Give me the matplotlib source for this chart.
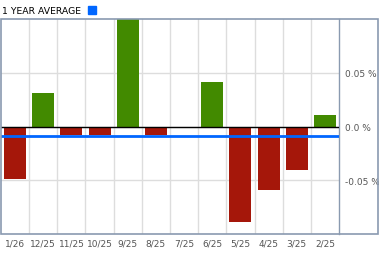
import numpy as np
import matplotlib.pyplot as plt
from matplotlib.patches import Rectangle

## monthly values in percent, newest first
months = ["1/26", "12/25", "11/25", "10/25", "9/25", "8/25",
          "7/25", "6/25", "5/25", "4/25", "3/25", "2/25"]
values = [-0.049, 0.031, -0.008, -0.008, 0.105, -0.008,
          0.0, 0.041, -0.089, -0.059, -0.040, 0.011]
average = -0.009
ytick_vals = [-0.05, 0.0, 0.05]
ytick_text = ["-0.05 %", "0.0 %", "0.05 %"]

W, H = 379, 255
fig = plt.figure(figsize=(W / 100, H / 100), dpi=100)

frame_col = "#8a9ab0"
green = "#428a00"
red = "#a5170a"

# axes box in pixel coords
x0, x1 = 1, 339
ytop, ybot = 20, 235
ax = fig.add_axes([x0 / W, (H - ybot) / H, (x1 - x0) / W, (ybot - ytop) / H])

x = np.arange(len(months))
cols = [green if v > 0 else red for v in values]
ax.bar(x, values, width=0.78, color=cols, zorder=2)
ax.axhline(0, color="black", lw=1, zorder=3)
ax.axhline(average, color="#0066ff", lw=2, zorder=4)

ax.set_xlim(-0.5, len(months) - 0.5)
ax.set_ylim(-0.1, 0.1)

# grid
for b in np.arange(0.5, len(months) - 0.5, 1):
    ax.axvline(b, color="#dddddd", lw=1, zorder=1)
for t in ytick_vals:
    ax.axhline(t, color="#dddddd", lw=1, zorder=1)

ax.set_xticks(x)
ax.set_xticklabels(months, fontsize=6.5, color="#555555")
ax.yaxis.tick_right()
ax.set_yticks(ytick_vals)
ax.set_yticklabels(ytick_text, fontsize=6.5, color="#555555")
ax.tick_params(length=0)
ax.tick_params(axis="x", pad=3.5)
ax.tick_params(axis="y", pad=4)

for s in ["top", "bottom", "left"]:
    ax.spines[s].set_visible(False)
ax.spines["right"].set_color(frame_col)
ax.spines["right"].set_linewidth(1)

# outer frame
fig.patches.append(Rectangle((0.5 / W, (H - ybot) / H), (W - 1.5) / W, (ybot - ytop) / H,
                             transform=fig.transFigure, fill=False,
                             edgecolor=frame_col, lw=1.2))

# header
fig.text(2 / W, 1 - 11 / H, "1 YEAR AVERAGE", fontsize=6.7, color="black",
         va="center", ha="left")
fig.patches.append(Rectangle((88 / W, 1 - 15 / H), 8 / W, 8 / H,
                             transform=fig.transFigure, color="#0066ff"))

fig.savefig("out.png", dpi=100)
